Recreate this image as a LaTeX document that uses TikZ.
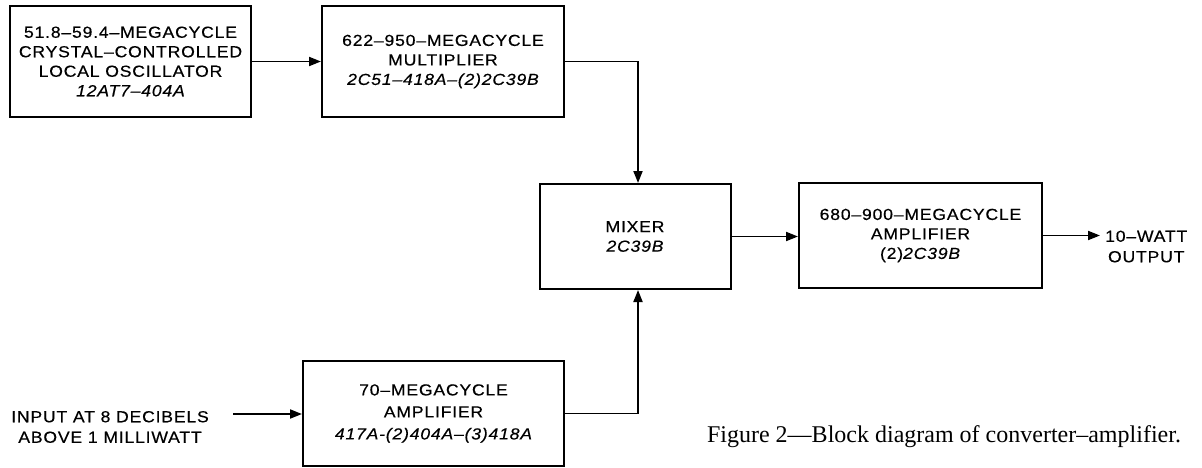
\documentclass[tikz,border=0pt]{standalone}
\usepackage{fontspec}
\setmainfont{Liberation Serif}
\newfontfamily\lett[FakeStretch=1.1,LetterSpace=5,FakeBold=0.4]{Liberation Sans}
\usetikzlibrary{arrows.meta}
\begin{document}
\begin{tikzpicture}[x=1pt,y=-1pt,
  blk/.style={draw,line width=2pt,rectangle,inner sep=0pt,align=center,
    font=\lett\fontsize{16}{19.5}\selectfont},
  lbl/.style={align=center,inner sep=1pt,font=\lett\fontsize{16}{20.5}\selectfont},
  arr/.style={line width=1.8pt,-{Triangle[length=12pt,width=9pt]}},
  captxt/.style={inner sep=0pt,font=\fontsize{24}{28}\selectfont}]
\useasboundingbox (0,0) rectangle (1202,468);
\node[blk,minimum width=241pt,minimum height=111pt] (osc) at (130.5,61.5)
  {51.8–59.4–MEGACYCLE\\CRYSTAL–CONTROLLED\\LOCAL OSCILLATOR\\\itshape 12AT7–404A};
\node[blk,minimum width=242pt,minimum height=111pt] (mult) at (443,61.5)
  {622–950–MEGACYCLE\\MULTIPLIER\\\itshape 2C51–418A–(2)2C39B};
\node[blk,minimum width=191pt,minimum height=105pt] (mixer) at (635,236.5)
  {MIXER\\\itshape 2C39B};
\node[blk,minimum width=243pt,minimum height=105pt] (amp) at (920.5,235.5)
  {680–900–MEGACYCLE\\AMPLIFIER\\(2)\textit{2C39B}};
\node[blk,minimum width=261pt,minimum height=105pt,
  font=\lett\fontsize{16}{22}\selectfont] (amp70) at (433.5,413.5)
  {70–MEGACYCLE\\AMPLIFIER\\\itshape 417A-(2)404A–(3)418A};
\node[lbl] (intxt) at (110,427) {INPUT AT 8 DECIBELS\\ABOVE 1 MILLIWATT};
\node[lbl,anchor=west] (outtxt) at (1104,246.5) {10–WATT\\OUTPUT};
\coordinate (instart) at (233,414);
\node[captxt] (caption) at (944,437) {Figure 2—Block diagram of converter–amplifier.};
\draw[arr] (osc.east) -- (mult.west);
\draw[arr] (mult.east) -| ([xshift=3pt]mixer.north);
\draw[arr] (mixer.east) -- (mixer.east -| amp.west);
\draw[arr] (amp.east) -- ([xshift=-4pt]amp.east -| outtxt.west);
\draw[arr] (instart) -- (instart -| amp70.west);
\draw[arr] (amp70.east) -| ([xshift=3pt]mixer.south);
\end{tikzpicture}
\end{document}
